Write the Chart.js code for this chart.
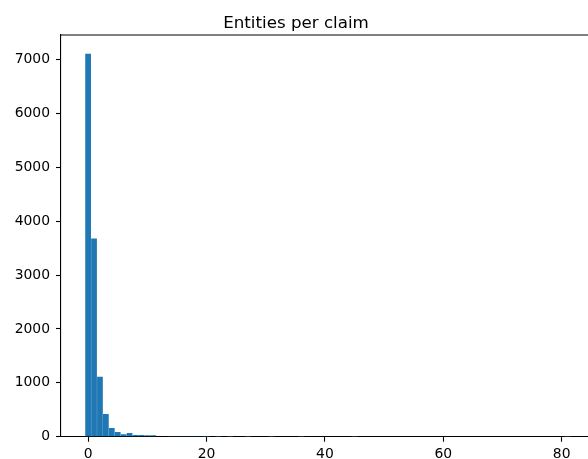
<!DOCTYPE html>
<html>
<head>
<meta charset="utf-8">
<script src="https://cdn.jsdelivr.net/npm/chart.js@4.4.1/dist/chart.umd.min.js"></script>
<style>
  html, body { margin: 0; padding: 0; overflow: hidden; background: #ffffff; }
  #wrap { width: 588px; height: 459px; overflow: hidden; position: relative; }
  canvas { display: block; }
</style>
</head>
<body>
<div id="wrap"><canvas id="c" width="592" height="459"></canvas></div>
<script>
// Number of entities per claim (bin centre) and number of claims in that bin
const entityCounts = [0, 1, 2, 3, 4, 5, 6, 7, 8, 9, 10, 11, 12, 13, 14, 15, 16, 17, 18, 19, 20, 22, 24, 27, 31, 36, 45, 81];
const claimCounts  = [7110, 3680, 1113, 421, 161, 85, 47, 68, 32, 30, 28, 26, 9, 7, 6, 4, 4, 3, 2, 2, 1, 1, 1, 1, 1, 1, 1, 1];
const xTickValues = [0, 20, 40, 60, 80];
const yTickValues = [0, 1000, 2000, 3000, 4000, 5000, 6000, 7000];
const chartTitle = 'Entities per claim';

const points = entityCounts.map((x, i) => ({ x: x, y: claimCounts[i] }));

const framePlugin = {
  id: 'frame',
  afterDraw(chart) {
    const a = chart.chartArea, ctx = chart.ctx;
    ctx.save();
    ctx.strokeStyle = '#000000';
    ctx.lineWidth = 1.1;
    ctx.beginPath();
    ctx.moveTo(a.left, a.top);
    ctx.lineTo(a.right, a.top);
    ctx.lineTo(a.right, a.bottom);
    ctx.stroke();
    ctx.restore();
  }
};

const tickFont = { family: 'DejaVu Sans', size: 13.9 };

new Chart(document.getElementById('c'), {
  type: 'bar',
  data: {
    datasets: [{
      data: points,
      backgroundColor: '#1f77b4',
      borderWidth: 0,
      barPercentage: 0.97,
      categoryPercentage: 1.0
    }]
  },
  options: {
    responsive: false,
    devicePixelRatio: 1,
    animation: false,
    layout: { padding: 0 },
    plugins: {
      legend: { display: false },
      tooltip: { enabled: false },
      title: {
        display: true,
        text: chartTitle,
        color: '#000000',
        font: { family: 'DejaVu Sans', size: 16.7, weight: 'normal' },
        padding: { top: 14, bottom: 1 }
      }
    },
    scales: {
      x: {
        type: 'linear',
        min: -4.58,
        max: 85.12,
        offset: false,
        afterBuildTicks(s) { s.ticks = xTickValues.map(v => ({ value: v })); },
        afterFit(s) { s.height = 22.3; },
        grid: { display: true, drawOnChartArea: false, offset: false, tickLength: 5, tickColor: '#000000', tickWidth: 1.1 },
        border: { display: true, color: '#000000', width: 1.1 },
        ticks: { color: '#000000', font: tickFont, padding: 4, maxRotation: 0, callback: v => String(v) }
      },
      y: {
        type: 'linear',
        min: 0,
        max: 7455,
        afterBuildTicks(s) { s.ticks = yTickValues.map(v => ({ value: v })); },
        afterFit(s) { s.width = 61; },
        grid: { display: true, drawOnChartArea: false, tickLength: 5, tickColor: '#000000', tickWidth: 1.1 },
        border: { display: true, color: '#000000', width: 1.1 },
        ticks: { color: '#000000', font: tickFont, padding: 6, callback: v => String(v) }
      }
    }
  },
  plugins: [framePlugin]
});
</script>
</body>
</html>
